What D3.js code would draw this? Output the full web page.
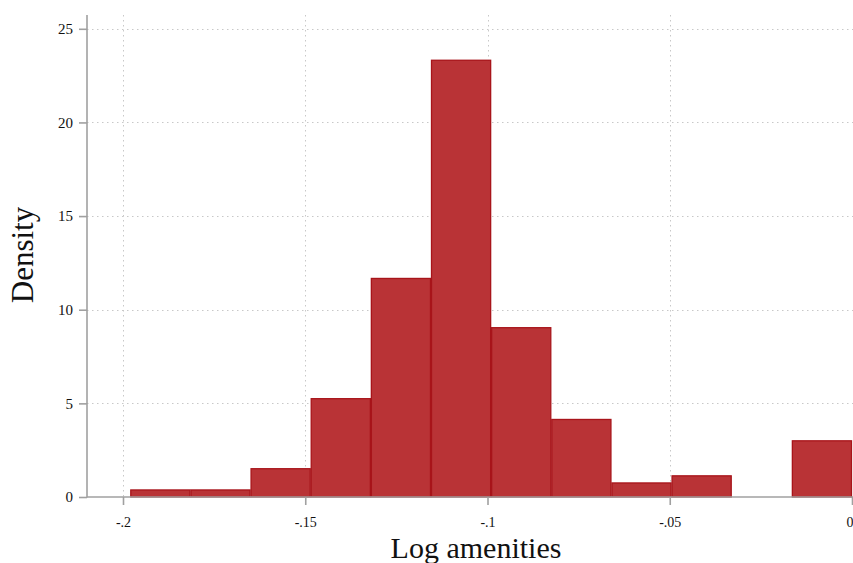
<!DOCTYPE html>
<html>
<head>
<meta charset="utf-8">
<script src="https://cdn.jsdelivr.net/npm/d3@7"></script>
<style>
  html, body { margin: 0; padding: 0; background: #fff; }
  svg { display: block; }
  text { font-family: "Liberation Serif", "DejaVu Serif", serif; fill: #111; }
</style>
</head>
<body>
<svg id="chart" width="853" height="563"></svg>
<script>
// Histogram of log amenities: bin edges and density per bin
const binStart = -0.198;
const binWidth = 0.0165;
const densities = [0.376, 0.376, 1.51, 5.25, 11.67, 23.32, 9.04, 4.14, 0.75, 1.13, 0, 3.0];
const xTicks = [-0.2, -0.15, -0.1, -0.05, 0];
const xTickLabels = ["-.2", "-.15", "-.1", "-.05", "0"];
const yTicks = [0, 5, 10, 15, 20, 25];

const bins = densities.map((d, i) => ({
  x0: binStart + i * binWidth,
  x1: binStart + (i + 1) * binWidth,
  density: d
}));

const svg = d3.select("#chart");
const plotLeft = 87, plotTop = 15, plotBottom = 497;

const x = d3.scaleLinear().domain([-0.2, 0]).range([123, 852]);
const y = d3.scaleLinear().domain([0, 25]).range([plotBottom, 28.8]);

// grid lines
const grid = svg.append("g")
  .attr("stroke", "#c8c8c8")
  .attr("stroke-width", 1)
  .attr("stroke-dasharray", "1.5,3.5");
grid.selectAll(".hg").data(yTicks.filter(t => t > 0)).join("line")
  .attr("x1", plotLeft).attr("x2", 853)
  .attr("y1", d => Math.round(y(d)) + 0.5).attr("y2", d => Math.round(y(d)) + 0.5);
grid.selectAll(".vg").data(xTicks.filter(t => t < 0)).join("line")
  .attr("y1", plotTop).attr("y2", plotBottom)
  .attr("x1", d => Math.round(x(d)) + 0.5).attr("x2", d => Math.round(x(d)) + 0.5);

// bars
svg.append("g").selectAll("rect").data(bins.filter(b => b.density > 0)).join("rect")
  .attr("x", d => x(d.x0) + 0.5)
  .attr("width", d => x(d.x1) - x(d.x0) - 1)
  .attr("y", d => y(d.density))
  .attr("height", d => plotBottom - y(d.density))
  .attr("fill", "#b93336")
  .attr("stroke", "#a8141a")
  .attr("stroke-width", 1.3);

// axes
const axisColor = "#a0a0a0";
const yAxis = svg.append("g").attr("transform", `translate(${plotLeft},0)`)
  .call(d3.axisLeft(y).tickValues(yTicks).tickSize(8).tickPadding(6).tickFormat(d3.format("d")));
yAxis.select(".domain").remove();
yAxis.append("line").attr("x1", 0).attr("x2", 0).attr("y1", plotTop).attr("y2", plotBottom + 0.5)
  .attr("stroke", axisColor).attr("stroke-width", 1.6);
yAxis.selectAll(".tick line").attr("stroke", axisColor).attr("stroke-width", 1.6);
yAxis.selectAll(".tick text").style("font-size", "15px").style("font-family", "Liberation Serif, DejaVu Serif, serif").attr("fill", "#111");

const xAxis = svg.append("g").attr("transform", `translate(0,${plotBottom})`)
  .call(d3.axisBottom(x).tickValues(xTicks).tickSize(8).tickPadding(12)
    .tickFormat((d, i) => xTickLabels[i]));
xAxis.select(".domain").remove();
xAxis.append("line").attr("x1", plotLeft).attr("x2", 853).attr("y1", 0).attr("y2", 0)
  .attr("stroke", axisColor).attr("stroke-width", 1.6);
xAxis.selectAll(".tick line").attr("stroke", axisColor).attr("stroke-width", 1.6);
xAxis.selectAll(".tick text").style("font-size", "14px").style("font-family", "Liberation Serif, DejaVu Serif, serif").attr("fill", "#111");
// the last label sits on the right border; keep it inside the canvas
xAxis.selectAll(".tick text").filter((d, i) => i === xTicks.length - 1).attr("text-anchor", "end").attr("dx", "1");

// axis titles
svg.append("text")
  .attr("x", 476).attr("y", 558)
  .attr("text-anchor", "middle")
  .style("font-size", "30px")
  .text("Log amenities");
svg.append("text")
  .attr("transform", "translate(33,255) rotate(-90)")
  .attr("text-anchor", "middle")
  .style("font-size", "31px")
  .text("Density");
</script>
</body>
</html>
